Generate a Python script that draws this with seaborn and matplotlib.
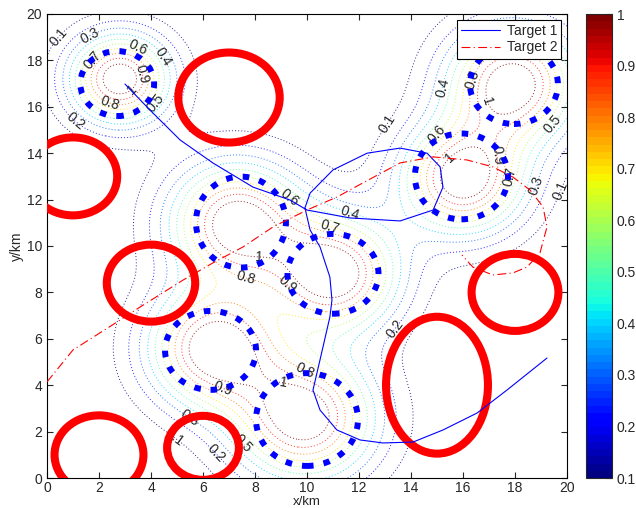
import numpy as np
import pandas as pd
import matplotlib
matplotlib.use("Agg")
import matplotlib.pyplot as plt
import seaborn as sns
from matplotlib.patches import Ellipse
from matplotlib.colors import Normalize
from matplotlib.cm import ScalarMappable

# ---- data -------------------------------------------------------------
# threat peaks (centre x, centre y)
peak_x = [2.8, 7.3, 11.1, 6.4, 9.9, 16.0, 17.9]
peak_y = [17.2, 11.0, 8.8, 5.6, 2.6, 12.9, 17.0]
peak_amp = [1.12, 1.12, 1.12, 1.12, 1.12, 1.12, 1.12]
peak_sigma = [1.35, 1.8, 1.7, 1.75, 1.9, 1.65, 1.75]

# blue dashed zones
blue_x = [2.7, 7.46, 11.0, 6.29, 10.0, 15.94, 17.96]
blue_y = [17.0, 11.03, 8.8, 5.5, 2.52, 13.0, 16.96]
blue_rx = [1.42, 1.73, 1.75, 1.75, 1.96, 1.79, 1.69]
blue_ry = [1.40, 1.96, 1.72, 1.70, 2.0, 1.85, 1.70]

# red solid zones
red_x = [7.0, 1.0, 4.0, 18.0, 15.0, 2.0, 6.0]
red_y = [16.4, 13.0, 8.4, 8.0, 4.0, 1.0, 1.3]
red_rx = [1.95, 1.7, 1.7, 1.67, 1.96, 1.71, 1.38]
red_ry = [1.94, 1.68, 1.66, 1.66, 2.95, 1.70, 1.38]

# trajectories
t1_x = [3.0, 3.96, 5.12, 6.38, 7.92, 9.35, 10.0, 11.65, 13.58, 14.85, 15.23, 15.12,
        14.62, 13.58, 12.31, 11.0, 10.12, 9.92, 10.12, 10.5, 10.88, 10.96, 10.88,
        10.5, 10.23, 10.5, 11.15, 12.04, 12.92, 14.08, 15.23, 16.54, 17.69, 19.23]
t1_y = [16.98, 15.86, 14.57, 13.58, 12.54, 11.98, 11.55, 11.21, 11.08, 11.55, 12.54,
        13.41, 14.0, 14.22, 14.0, 13.28, 12.28, 11.64, 10.69, 9.96, 8.66, 7.67, 6.94,
        5.09, 3.79, 2.93, 2.07, 1.64, 1.51, 1.55, 2.07, 2.80, 3.79, 5.17]
t2_x = [0.0, 1.0, 2.69, 3.58, 5.23, 6.38, 7.54, 8.69, 10.0, 11.15, 12.15, 13.58,
        14.85, 16.15, 17.15, 17.92, 18.58, 19.08, 19.23, 18.96, 18.46, 17.92, 17.15,
        16.38, 15.96]
t2_y = [4.14, 5.52, 6.72, 7.37, 8.53, 9.27, 9.96, 10.82, 11.55, 12.11, 12.72, 13.58,
        13.84, 13.71, 13.41, 12.97, 12.41, 11.68, 10.82, 9.70, 9.09, 8.84, 8.75,
        9.09, 9.61]

levels = [0.1, 0.2, 0.3, 0.4, 0.5, 0.6, 0.7, 0.8, 0.9, 1.0]
cbar_ticks = [0.1, 0.2, 0.3, 0.4, 0.5, 0.6, 0.7, 0.8, 0.9, 1.0]
axis_ticks = [0, 2, 4, 6, 8, 10, 12, 14, 16, 18, 20]

# ---- figure -----------------------------------------------------------
sns.set_style("ticks")
plt.rcParams['font.family'] = ['Liberation Sans', 'DejaVu Sans']
plt.rcParams['font.size'] = 10

fig = plt.figure(figsize=(6.36, 5.08), dpi=100)
ax = fig.add_axes([47/636, 1-478/508, 520/636, 464/508])
cax = fig.add_axes([586/636, 1-478/508, 26/636, 464/508])

gx = np.linspace(0, 20, 241)
gy = np.linspace(0, 20, 241)
X, Y = np.meshgrid(gx, gy)
Z = np.zeros_like(X)
for px, py, a, s in zip(peak_x, peak_y, peak_amp, peak_sigma):
    Z += a * np.exp(-((X - px) ** 2 + (Y - py) ** 2) / (2 * s ** 2))

cmap = plt.get_cmap('jet', 64)
norm = Normalize(vmin=0.1, vmax=1.0)
cs = ax.contour(X, Y, Z, levels=levels, cmap=cmap, norm=norm,
                linestyles=[(0, (1, 2.2))], linewidths=0.7, alpha=0.85, zorder=1)
ax.clabel(cs, levels, inline=False, fontsize=10, colors='k', fmt='%g')

for cx, cy, rx, ry in zip(red_x, red_y, red_rx, red_ry):
    ax.add_patch(Ellipse((cx, cy), 2 * rx, 2 * ry, fill=False, edgecolor='#ff0000',
                         lw=5.8, zorder=3))
for cx, cy, rx, ry in zip(blue_x, blue_y, blue_rx, blue_ry):
    ax.add_patch(Ellipse((cx, cy), 2 * rx, 2 * ry, fill=False, edgecolor='#0000ff',
                         lw=4.3, linestyle=(0, (1.1, 1.7)), capstyle='butt', zorder=4))

df1 = pd.DataFrame({'x': t1_x, 'y': t1_y})
df2 = pd.DataFrame({'x': t2_x, 'y': t2_y})
sns.lineplot(data=df1, x='x', y='y', sort=False, estimator=None, color='#0000ff',
             lw=0.8, ax=ax, label='Target 1', zorder=5)
sns.lineplot(data=df2, x='x', y='y', sort=False, estimator=None, color='#ff0000',
             lw=0.8, ax=ax, label='Target 2', zorder=5, linestyle=(0, (8, 3, 1, 3)))

ax.set_xlim(0, 20)
ax.set_ylim(0, 20)
ax.set_xticks(axis_ticks)
ax.set_yticks(axis_ticks)
ax.tick_params(direction='in', top=True, right=True, length=4, width=0.8, labelsize=10)
ax.tick_params(axis='x', pad=2)
for sp in ax.spines.values():
    sp.set_linewidth(0.8)
    sp.set_color('k')
ax.set_xlabel('x/km', fontsize=9.5)
ax.xaxis.set_label_coords(0.5, -0.038)
ax.set_ylabel('y/km', labelpad=2)
leg = ax.legend(loc='upper right', fancybox=False, edgecolor='k', framealpha=1,
                borderaxespad=0.4, handlelength=2.8, handletextpad=0.5, fontsize=10,
                borderpad=0.3, labelspacing=0.2)
leg.get_frame().set_linewidth(0.8)

sm = ScalarMappable(norm=norm, cmap=cmap)
cb = fig.colorbar(sm, cax=cax, ticks=cbar_ticks)
cb.ax.set_yticklabels(['%g' % t for t in cbar_ticks])
cb.ax.tick_params(direction='in', length=4, width=0.8, labelsize=10)
cb.outline.set_linewidth(0.8)

fig.savefig('out.png', dpi=100)
